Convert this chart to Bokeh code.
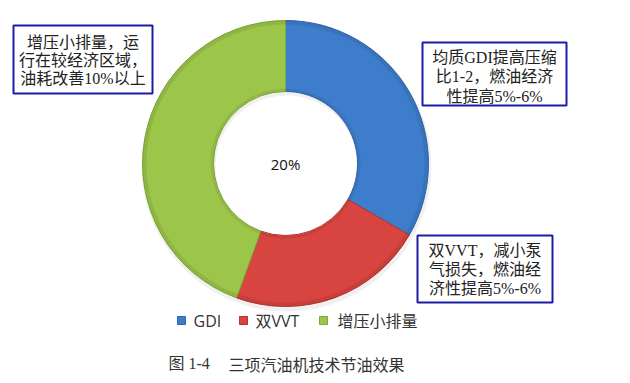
import math
from bokeh.plotting import figure
from bokeh.models import Range1d, ColumnDataSource
from bokeh.core.properties import value
from bokeh.embed import file_html
from bokeh.resources import INLINE

# ---- data ----
categories = ["GDI", "双VVT", "增压小排量"]
shares = [6, 4, 8]
colors = ["#3E7DCC", "#D8443F", "#9CC64A"]
edge_colors = ["#2F66AE", "#B8322E", "#7FA835"]
center_label = "20%"
notes = [
    ["增压小排量，运", "行在较经济区域，", "油耗改善10%以上"],
    ["均质GDI提高压缩", "比1-2，燃油经济", "性提高5%-6%"],
    ["双VVT，减小泵", "气损失，燃油经", "济性提高5%-6%"],
]
caption_num = "图 1-4"
caption_text = "三项汽油机技术节油效果"

W, H = 622, 375
p = figure(width=W, height=H, output_backend="svg", toolbar_location=None,
           x_range=Range1d(0, W), y_range=Range1d(383 - H, 383),
           min_border=0)
p.axis.visible = False
p.grid.visible = False
p.outline_line_color = None
p.background_fill_color = "white"


def Y(py):
    return 383 - py


# ---- donut ----
cx, cy = 285, Y(163)
r_in, r_out = 72, 143
total = sum(shares)
starts, ends = [], []
cum = 0.0
for s in shares:
    a0 = math.pi / 2 - cum / total * 2 * math.pi
    cum += s
    a1 = math.pi / 2 - cum / total * 2 * math.pi
    starts.append(a0)
    ends.append(a1)

src = ColumnDataSource(dict(start=starts, end=ends, color=colors, edge=edge_colors,
                            cat=categories))
# faint shadow
p.annular_wedge(x=cx + 1, y=cy - 3, inner_radius=r_in - 1, outer_radius=r_out + 2,
                start_angle=0, end_angle=2 * math.pi, fill_color="#000000",
                fill_alpha=0.06, line_color=None)
p.annular_wedge(x=cx, y=cy, inner_radius=r_in, outer_radius=r_out,
                start_angle="start", end_angle="end", direction="clock",
                fill_color="color", line_color="edge", line_width=1, source=src)
# bevel shading
p.annular_wedge(x=cx, y=cy, inner_radius=r_out - 4, outer_radius=r_out,
                start_angle="start", end_angle="end", direction="clock",
                fill_color="#000000", fill_alpha=0.08, line_color=None, source=src)
p.annular_wedge(x=cx, y=cy, inner_radius=r_in, outer_radius=r_in + 3,
                start_angle="start", end_angle="end", direction="clock",
                fill_color="#000000", fill_alpha=0.07, line_color=None, source=src)

p.text(x=[cx], y=[cy], text=[center_label], text_align="center", text_baseline="middle",
       text_font=value("Open Sans"), text_font_size="15px", text_color="#111111")

# ---- annotation boxes ----
boxes = [(13, 25, 152, 93), (422, 42, 566, 105), (417, 235, 552, 302)]
line_y = [[42, 60, 78], [57, 76, 96], [250, 269, 288]]
for (x0, y0, x1, y1), lines, ly in zip(boxes, notes, line_y):
    p.quad(left=x0, right=x1, top=Y(y0), bottom=Y(y1), fill_color="white",
           line_color="#1c1ca8", line_width=2)
    xm = (x0 + x1) / 2
    p.text(x=[xm] * 3, y=[Y(v) for v in ly], text=lines, text_align="center",
           text_baseline="middle",
           text_font=value("Liberation Serif, Noto Sans CJK SC"),
           text_font_size="16px", text_color="#222222")

# ---- legend ----
sq_x = [181, 243, 323]
tx_x = [193, 255, 337]
ly = Y(320)
p.rect(x=sq_x, y=[ly] * 3, width=8, height=8, fill_color=colors, line_color=edge_colors)
p.text(x=tx_x, y=[ly] * 3, text=categories, text_align="left", text_baseline="middle",
       text_font=value("Open Sans, Noto Sans CJK SC"), text_font_size="16px",
       text_color="#333333")

# ---- caption ----
p.text(x=[168], y=[Y(363)], text=[caption_num], text_align="left", text_baseline="middle",
       text_font=value("Liberation Serif, Noto Sans CJK SC"), text_font_size="16px",
       text_color="#333333")
p.text(x=[228], y=[Y(363)], text=[caption_text], text_align="left", text_baseline="middle",
       text_font=value("Noto Sans CJK SC"), text_font_size="16px",
       text_color="#333333")

open("out.html", "w").write(file_html(p, INLINE))
